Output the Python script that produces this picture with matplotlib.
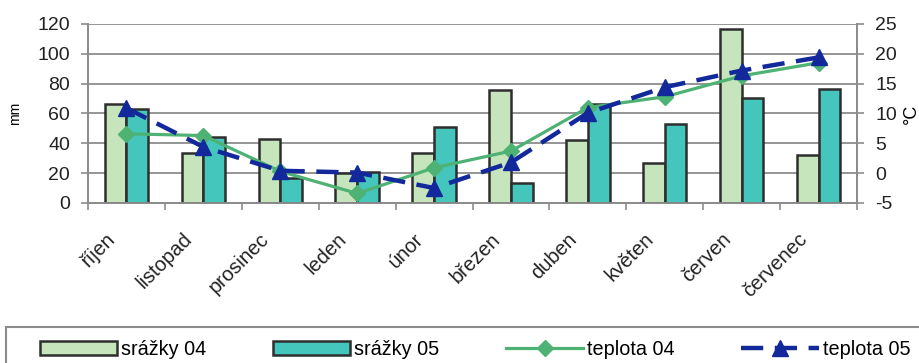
import numpy as np
import matplotlib.pyplot as plt
from matplotlib.patches import Rectangle
from matplotlib.transforms import ScaledTranslation

months = ["říjen", "listopad", "prosinec", "leden", "únor",
          "březen", "duben", "květen", "červen", "červenec"]
srazky_04 = [66.5, 33.3, 42.7, 20.0, 33.3, 76.0, 42.3, 26.6, 116.5, 32.0]
srazky_05 = [62.9, 44.0, 17.0, 21.0, 50.8, 13.2, 66.4, 53.2, 70.7, 76.3]
teplota_04 = [6.6, 6.3, 0.3, -3.4, 0.9, 3.7, 11.0, 12.8, 16.3, 18.5]
teplota_05 = [10.9, 4.4, 0.4, 0.1, -2.5, 1.8, 10.1, 14.4, 17.2, 19.4]

plt.rcParams['font.family'] = ['Liberation Sans', 'DejaVu Sans']
plt.rcParams['axes.unicode_minus'] = False

C_LIGHT = "#c6e5bc"
C_TEAL = "#44c6bd"
C_GREEN = "#4db273"
C_BLUE = "#13299b"
C_EDGE = "#2e2e2e"
C_GRID = "#8c8c8c"

fig = plt.figure(figsize=(9.2, 3.63), dpi=100)
ax = fig.add_axes([0.0957, 0.4408, 0.8358, 0.4931])
ax2 = ax.twinx()

x = np.arange(len(months))
w = 0.282
ax.bar(x - w / 2, srazky_04, w, color=C_LIGHT, edgecolor=C_EDGE, linewidth=1.8,
       label="srážky 04", zorder=3)
ax.bar(x + w / 2, srazky_05, w, color=C_TEAL, edgecolor=C_EDGE, linewidth=1.8,
       label="srážky 05", zorder=3)

ax2.plot(x, teplota_04, color=C_GREEN, lw=2.3, marker="D", ms=8,
         label="teplota 04", zorder=4)
ax2.plot(x, teplota_05, color=C_BLUE, lw=3.2, dashes=(5, 2.6), marker="^", ms=11,
         label="teplota 05", zorder=5)

ax.set_xlim(-0.5, len(months) - 0.5)
ax.set_ylim(0, 120)
ax2.set_ylim(-5, 25)
ax.set_yticks(range(0, 121, 20))
ax2.set_yticks(range(-5, 26, 5))
ax.yaxis.grid(True, color=C_GRID, lw=1.3, zorder=0)
ax.set_axisbelow(True)

ax.set_xticks(x)
ax.set_xticks(np.arange(-0.5, len(months), 1), minor=True)
ax.set_xticklabels(months, rotation=45, ha="right", va="center",
                   rotation_mode="anchor", fontsize=14.5)
ax.tick_params(axis="x", which="major", length=0, pad=24)
ax.tick_params(axis="x", which="minor", length=5, width=1.2, color=C_GRID)
for lbl in ax.get_xticklabels():
    lbl.set_transform(lbl.get_transform() + ScaledTranslation(-0.14, 0, fig.dpi_scale_trans))

ax.tick_params(axis="y", labelsize=14, length=5, width=1.2, color=C_GRID, pad=8,
               labelcolor="#222222")
ax2.tick_params(axis="y", labelsize=14, length=5, width=1.2, color=C_GRID, pad=8,
                labelcolor="#222222")
ax.tick_params(axis="x", labelcolor="#222222")

for a in (ax, ax2):
    for s in a.spines.values():
        s.set_color(C_GRID)
        s.set_linewidth(1.3)
    a.spines["top"].set_visible(False)
ax2.patch.set_visible(False)

ax.set_ylabel("mm", fontsize=10, va="center")
ax.yaxis.set_label_coords(-0.095, 0.5)
ax2.set_ylabel("°C", fontsize=13, va="center", rotation=90)
ax2.yaxis.set_label_coords(1.0705, 0.5)

fig.patches.append(Rectangle((0.0065, -0.1), 1.1, 0.2, transform=fig.transFigure,
                             fill=False, edgecolor=C_GRID, lw=1.5))

h1, l1 = ax.get_legend_handles_labels()
h2, l2 = ax2.get_legend_handles_labels()
fig.legend(h1 + h2, l1 + l2, loc="center left", bbox_to_anchor=(0.043, 0.038),
           ncol=4, frameon=False, handlelength=3.9, handletextpad=0.2,
           columnspacing=3.35, borderaxespad=0, borderpad=0,
           prop={"size": 14.3})

fig.savefig("out.png", dpi=100)
